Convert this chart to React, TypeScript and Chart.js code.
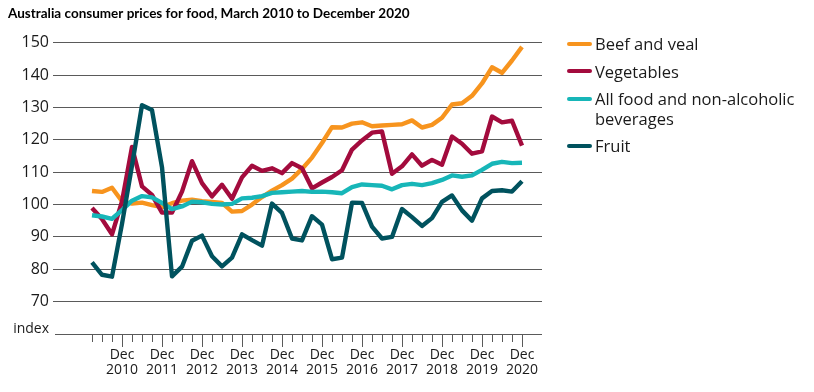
import React, { useEffect, useRef } from "react";
import { Chart, registerables } from "chart.js";

Chart.register(...registerables);

const chartTitle = "Australia consumer prices for food, March 2010 to December 2020";
const yAxisUnit = "index";

const quarters = [
  "Mar 2010", "Jun 2010", "Sep 2010", "Dec 2010",
  "Mar 2011", "Jun 2011", "Sep 2011", "Dec 2011",
  "Mar 2012", "Jun 2012", "Sep 2012", "Dec 2012",
  "Mar 2013", "Jun 2013", "Sep 2013", "Dec 2013",
  "Mar 2014", "Jun 2014", "Sep 2014", "Dec 2014",
  "Mar 2015", "Jun 2015", "Sep 2015", "Dec 2015",
  "Mar 2016", "Jun 2016", "Sep 2016", "Dec 2016",
  "Mar 2017", "Jun 2017", "Sep 2017", "Dec 2017",
  "Mar 2018", "Jun 2018", "Sep 2018", "Dec 2018",
  "Mar 2019", "Jun 2019", "Sep 2019", "Dec 2019",
  "Mar 2020", "Jun 2020", "Sep 2020", "Dec 2020",
];

const beefAndVeal = [
  104.2, 103.9, 105.2, 101.0, 100.3, 100.6, 99.8, 99.2, 100.4, 101.2, 101.5,
  101.0, 100.8, 100.5, 97.8, 98.0, 100.0, 102.3, 104.3, 106.0, 108.0, 111.0,
  114.5, 119.0, 123.9, 123.8, 125.0, 125.4, 124.2, 124.4, 124.6, 124.8, 126.0,
  123.8, 124.6, 126.8, 130.9, 131.3, 133.6, 137.4, 142.4, 140.7, 144.5, 148.7,
];

const vegetables = [
  98.9, 95.5, 90.8, 101.0, 117.8, 105.6, 103.0, 97.5, 97.5, 104.0, 113.4,
  106.6, 102.5, 106.1, 101.8, 108.4, 112.0, 110.4, 111.2, 109.7, 112.8, 111.2,
  105.0, 106.8, 108.5, 110.6, 117.0, 119.8, 122.2, 122.6, 109.5, 111.8, 115.5,
  112.0, 113.8, 112.3, 121.0, 118.8, 115.7, 116.4, 127.2, 125.4, 125.9, 118.2,
];

const allFood = [
  96.7, 96.3, 95.6, 98.3, 101.2, 102.6, 102.2, 100.5, 98.6, 99.4, 100.9,
  100.7, 100.2, 100.0, 100.2, 101.9, 102.1, 102.6, 103.6, 103.8, 104.0, 104.2,
  103.9, 104.0, 103.8, 103.5, 105.4, 106.2, 106.0, 105.8, 104.7, 106.0, 106.4,
  106.0, 106.6, 107.6, 109.0, 108.6, 109.0, 110.7, 112.6, 113.2, 112.8, 112.9,
];

const fruit = [
  82.1, 78.3, 77.7, 94.0, 112.0, 130.7, 129.2, 111.5, 77.8, 80.8, 88.8,
  90.4, 84.0, 80.9, 83.6, 90.8, 89.0, 87.3, 100.3, 97.4, 89.5, 88.9,
  96.4, 93.8, 83.1, 83.6, 100.6, 100.5, 93.2, 89.5, 90.0, 98.6, 96.1,
  93.4, 95.8, 100.8, 102.8, 98.2, 95.0, 101.9, 104.2, 104.4, 104.0, 107.2,
];

const seriesNames = ["Beef and veal", "Vegetables", "All food and non-alcoholic beverages", "Fruit"];
const seriesColors = ["#F7941E", "#A30B3D", "#17B6B8", "#00525E"];
const seriesValues = [beefAndVeal, vegetables, allFood, fruit];

const FONT = '"Open Sans", "Noto Sans", sans-serif';
const GRID = "#5a5a5a";
const TEXT = "#1a1a1a";

const quarterTicks = {
  id: "quarterTicks",
  afterDraw(chart: any) {
    const xs = chart.scales.x;
    const ctx = chart.ctx;
    ctx.save();
    ctx.strokeStyle = GRID;
    ctx.lineWidth = 1;
    ctx.beginPath();
    quarters.forEach((q, i) => {
      const px = Math.round(xs.getPixelForValue(i)) + 0.5;
      const len = q.startsWith("Dec") ? 13 : 8;
      ctx.moveTo(px, xs.top);
      ctx.lineTo(px, xs.top + len);
    });
    ctx.stroke();
    ctx.restore();
  },
};

export default function App() {
  const canvasRef = useRef<HTMLCanvasElement | null>(null);

  useEffect(() => {
    const canvas = canvasRef.current;
    if (!canvas) return;
    const datasets = seriesNames.map((name, s) => ({
      label: name,
      data: quarters.map((_, i) => ({ x: i, y: seriesValues[s][i] })),
      borderColor: seriesColors[s],
      backgroundColor: seriesColors[s],
      borderWidth: 4.4,
      pointRadius: 0,
      pointHoverRadius: 0,
      tension: 0,
      fill: false,
      borderJoinStyle: "round" as const,
      order: 4 - s,
    }));

    const chart = new Chart(canvas, {
      type: "line",
      data: { datasets },
      plugins: [quarterTicks],
      options: {
        animation: false,
        responsive: false,
        devicePixelRatio: 1,
        layout: { padding: { left: 8, right: 272, top: 0, bottom: 0 } },
        plugins: {
          legend: { display: false },
          tooltip: { enabled: false },
          title: {
            display: true,
            text: chartTitle,
            align: "start",
            color: "#000",
            font: { family: "Lato, " + FONT, size: 13.5, weight: "bold", lineHeight: 1.2 },
            padding: { top: 6, bottom: 20.5 },
          },
        },
        scales: {
          x: {
            type: "linear",
            min: -3.7,
            max: 45,
            afterBuildTicks: (s: any) => {
              s.ticks = quarters.map((_, i) => ({ value: i }));
            },
            afterFit: (s: any) => {
              s.height = 58;
            },
            grid: { display: false, drawTicks: false },
            border: { display: false },
            ticks: {
              autoSkip: false,
              maxRotation: 0,
              minRotation: 0,
              padding: 14,
              color: TEXT,
              font: { family: FONT, size: 14, lineHeight: 1.05 },
              callback: (v: any) => {
                const q = quarters[v as number];
                return q && q.startsWith("Dec") ? q.split(" ") : "";
              },
            },
          },
          y: {
            type: "linear",
            min: 60,
            max: 150,
            afterFit: (s: any) => {
              s.width = 47;
            },
            border: { display: false },
            grid: {
              color: GRID,
              lineWidth: 1,
              tickLength: 2,
              tickColor: (c: any) => (c.tick && c.tick.value === 60 ? "rgba(0,0,0,0)" : GRID),
            },
            ticks: {
              stepSize: 10,
              padding: 4,
              color: TEXT,
              font: (c: any) =>
                c.tick && c.tick.value === 60
                  ? { family: FONT, size: 14, lineHeight: 0.66 }
                  : { family: FONT, size: 16 },
              callback: (v: any) => (v === 60 ? [yAxisUnit, ""] : String(v)),
            },
          },
        },
      },
    });
    return () => chart.destroy();
  }, []);

  return (
    <div style={{ position: "absolute", left: 0, top: 0, width: 814, height: 392, background: "#fff" }}>
      <canvas ref={canvasRef} width={814} height={392} style={{ display: "block" }} />
      <div
        style={{
          position: "absolute",
          left: 567,
          top: 34,
          width: 240,
          display: "flex",
          flexDirection: "column",
          gap: 8.4,
          fontFamily: FONT,
          fontSize: 16.5,
          lineHeight: "19.3px",
          color: TEXT,
        }}
      >
        {seriesNames.map((name, s) => (
          <div key={name} style={{ display: "flex", alignItems: "flex-start" }}>
            <div
              style={{
                width: 25,
                height: 4,
                borderRadius: 2,
                background: seriesColors[s],
                marginTop: 7.65,
                marginRight: 3,
                flex: "none",
              }}
            />
            <div style={{ width: 212 }}>{name}</div>
          </div>
        ))}
      </div>
    </div>
  );
}
